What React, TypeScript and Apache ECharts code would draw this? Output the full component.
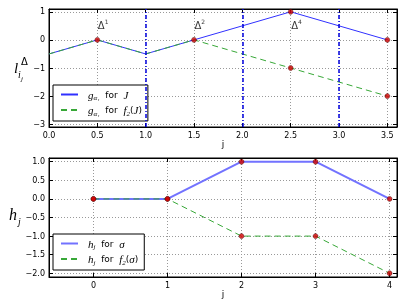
import React, { useEffect, useRef } from "react";
import * as echarts from "echarts";

// ---- data ----
const topX = [0, 0.5, 1, 1.5, 2, 2.5, 3, 3.5];
const gJ = [-0.5, 0, -0.5, 0, 0.5, 1, 0.5, 0];
const gF2J = [-0.5, 0, -0.5, 0, -0.5, -1, -1.5, -2];
const topMarkers = [[0.5, 0], [1.5, 0], [2.5, 1], [3.5, 0], [2.5, -1], [3.5, -2]];
const vLines = [1, 2, 3];
const deltaNotes = [
  { x: 0.5, y: 0.55, k: "1" },
  { x: 1.5, y: 0.55, k: "2" },
  { x: 2.5, y: 0.55, k: "4" },
];
const topXTicks = [0, 0.5, 1, 1.5, 2, 2.5, 3, 3.5];
const topYTicks = [-3, -2, -1, 0, 1];

const botX = [0, 1, 2, 3, 4];
const hSigma = [0, 0, 1, 1, 0];
const hF2Sigma = [0, 0, -1, -1, -2];
const botXTicks = [0, 1, 2, 3, 4];
const botYTicks = [-2, -1.5, -1, -0.5, 0, 0.5, 1];

const legendNames: Record<string, string> = {
  gJ: "{m|g}{s|α₁}{t|  for  }{m|J}",
  gF2J: "{m|g}{s|α₁}{t|  for  }{m|f}{s|2}{t|(}{m|J}{t|)}",
  hs: "{m|h}{s|j}{t|  for  }{m|σ}",
  hf2s: "{m|h}{s|j}{t|  for  }{m|f}{s|2}{t|(}{m|σ}{t|)}",
};

const minus = (s: string) => s.replace("-", "\u2212");
const zip = (xs: number[], ys: number[]) => xs.map((x, i) => [x, ys[i]]);

const SANS = "DejaVu Sans";
const SERIF = "Liberation Serif";

const BLUE = "#3030ff";
const BLUE2 = "#7272ff";
const GREEN = "#38a838";
const RED = "#d00000";

export default function App() {
  const ref = useRef<HTMLDivElement>(null);
  useEffect(() => {
    if (!ref.current) return;
    const chart = echarts.init(ref.current, undefined, { renderer: "svg" });

    const gridLine = { show: true, lineStyle: { color: "#999", type: [1, 2], width: 1 } };
    const mainX = (grid: number, min: number, max: number, ticks: number[], fmt: (v: number) => string) => ({
      type: "value",
      gridIndex: grid,
      min,
      max,
      position: "bottom",
      name: "j",
      nameLocation: "middle",
      nameGap: 7,
      nameTextStyle: { fontFamily: SANS, fontSize: 9, color: "#000" },
      axisLine: { show: true, onZero: false, lineStyle: { color: "#000", width: 1 } },
      axisTick: { show: true, inside: true, length: 4, customValues: ticks, lineStyle: { color: "#000" } },
      axisLabel: { show: true, margin: 4, customValues: ticks, fontFamily: SANS, fontSize: 8, color: "#000", formatter: (v: number) => minus(fmt(v)) },
      splitLine: gridLine,
    });
    const mainY = (grid: number, min: number, max: number, ticks: number[], fmt: (v: number) => string) => ({
      type: "value",
      gridIndex: grid,
      min,
      max,
      position: "left",
      axisLine: { show: true, onZero: false, lineStyle: { color: "#000", width: 1 } },
      axisTick: { show: true, inside: true, length: 4, customValues: ticks, lineStyle: { color: "#000" } },
      axisLabel: { show: true, margin: 4, customValues: ticks, fontFamily: SANS, fontSize: 8, color: "#000", formatter: (v: number) => minus(fmt(v)) },
      splitLine: gridLine,
    });
    const mirror = (grid: number, min: number, max: number, ticks: number[], pos: string) => ({
      type: "value",
      gridIndex: grid,
      min,
      max,
      position: pos,
      axisLine: { show: true, onZero: false, lineStyle: { color: "#000", width: 1 } },
      axisTick: { show: true, inside: true, length: 4, customValues: ticks, lineStyle: { color: "#000" } },
      axisLabel: { show: false },
      splitLine: { show: false },
    });

    const legendBase = {
      orient: "vertical",
      left: 53,
      itemWidth: 17,
      itemHeight: 10,
      itemGap: 3,
      padding: [4, 6, 4, 7],
      borderColor: "#000",
      borderWidth: 1,
      borderRadius: 0,
      backgroundColor: "#fff",
      selectedMode: false,
      itemStyle: { color: "transparent", opacity: 0, borderWidth: 0 },
      formatter: (n: string) => legendNames[n],
      textStyle: {
        color: "#000",
        padding: [0, 0, 0, 5],
        rich: {
          m: { fontFamily: SERIF, fontStyle: "italic", fontSize: 11, lineHeight: 14, color: "#000" },
          s: { fontFamily: SERIF, fontStyle: "italic", fontSize: 7, lineHeight: 8, verticalAlign: "bottom", color: "#000" },
          t: { fontFamily: SANS, fontSize: 9, lineHeight: 14, color: "#000" },
        },
      },
    };

    const markerStyle = { color: RED, borderColor: "#300", borderWidth: 0.5 };

    chart.setOption({
      animation: false,
      grid: [
        { left: 49, top: 9, width: 348, height: 118, show: true, borderColor: "#000", borderWidth: 1, backgroundColor: "transparent" },
        { left: 49, top: 158, width: 348, height: 119, show: true, borderColor: "#000", borderWidth: 1, backgroundColor: "transparent" },
      ],
      xAxis: [
        mainX(0, 0, 3.6, topXTicks, (v) => v.toFixed(1)),
        mainX(1, -0.6, 4.1, botXTicks, (v) => v.toFixed(0)),
        mirror(0, 0, 3.6, topXTicks, "top"),
        mirror(1, -0.6, 4.1, botXTicks, "top"),
      ],
      yAxis: [
        mainY(0, -3.1, 1.1, topYTicks, (v) => v.toFixed(0)),
        mainY(1, -2.1, 1.1, botYTicks, (v) => v.toFixed(1)),
        mirror(0, -3.1, 1.1, topYTicks, "right"),
        mirror(1, -2.1, 1.1, botYTicks, "right"),
      ],
      legend: [
        { ...legendBase, top: 85, data: ["gJ", "gF2J"] },
        { ...legendBase, top: 234, data: ["hs", "hf2s"] },
      ],
      series: [
        {
          name: "gJ",
          type: "line",
          xAxisIndex: 0,
          yAxisIndex: 0,
          data: zip(topX, gJ),
          symbol: "none",
          color: BLUE,
          lineStyle: { color: BLUE, width: 1 },
          z: 3,
          markLine: {
            silent: true,
            symbol: "none",
            label: { show: false },
            lineStyle: { color: "#0000e0", type: [4, 2, 1, 2], width: 1.5 },
            data: vLines.map((v) => ({ xAxis: v })),
          },
        },
        {
          name: "gF2J",
          type: "line",
          xAxisIndex: 0,
          yAxisIndex: 0,
          data: zip(topX, gF2J),
          symbol: "none",
          color: GREEN,
          lineStyle: { color: GREEN, width: 1, type: [6, 4] },
          z: 4,
        },
        {
          name: "topPts",
          type: "scatter",
          xAxisIndex: 0,
          yAxisIndex: 0,
          data: topMarkers,
          symbolSize: 5,
          itemStyle: markerStyle,
          z: 6,
        },
        {
          name: "notes",
          type: "scatter",
          xAxisIndex: 0,
          yAxisIndex: 0,
          data: deltaNotes.map((d) => ({ value: [d.x, d.y], k: d.k })),
          symbolSize: 1,
          itemStyle: { color: "transparent" },
          silent: true,
          z: 7,
          label: {
            show: true,
            position: "right",
            distance: 0,
            formatter: (p: any) => `{d|Δ}{u|${p.data.k}}`,
            rich: {
              d: { fontFamily: SANS, fontSize: 10, lineHeight: 12, verticalAlign: "bottom", color: "#000" },
              u: { fontFamily: SANS, fontSize: 6, lineHeight: 7, verticalAlign: "top", color: "#000" },
            },
          },
        },
        {
          name: "hs",
          type: "line",
          xAxisIndex: 1,
          yAxisIndex: 1,
          data: zip(botX, hSigma),
          symbol: "none",
          color: BLUE2,
          lineStyle: { color: BLUE2, width: 2 },
          z: 3,
        },
        {
          name: "hf2s",
          type: "line",
          xAxisIndex: 1,
          yAxisIndex: 1,
          data: zip(botX, hF2Sigma),
          symbol: "none",
          color: GREEN,
          lineStyle: { color: GREEN, width: 1, type: [6, 4] },
          z: 4,
        },
        {
          name: "botPts",
          type: "scatter",
          xAxisIndex: 1,
          yAxisIndex: 1,
          data: [...zip(botX, hSigma), ...zip(botX, hF2Sigma)],
          symbolSize: 5,
          itemStyle: markerStyle,
          z: 6,
        },
      ],
      graphic: [
        { type: "text", left: 14, top: 60, style: { text: "l", font: `italic 15px '${SERIF}'`, fill: "#000" } },
        { type: "text", left: 21, top: 56, style: { text: "Δ", font: `10px '${SANS}'`, fill: "#000" } },
        { type: "text", left: 18, top: 69, style: { text: "i", font: `italic 10px '${SERIF}'`, fill: "#000" } },
        { type: "text", left: 21, top: 75, style: { text: "j", font: `italic 7px '${SERIF}'`, fill: "#000" } },
        { type: "text", left: 9, top: 206, style: { text: "h", font: `italic 16px '${SERIF}'`, fill: "#000" } },
        { type: "text", left: 18, top: 216, style: { text: "j", font: `italic 10px '${SERIF}'`, fill: "#000" } },
      ],
    });
    return () => chart.dispose();
  }, []);
  return <div ref={ref} style={{ position: "fixed", left: 0, top: 0, width: 407, height: 307 }} />;
}
